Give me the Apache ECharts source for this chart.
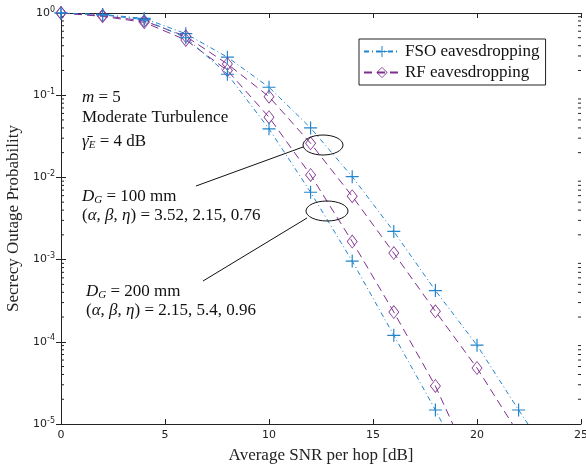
<!DOCTYPE html>
<html>
<head>
<meta charset="utf-8">
<script src="https://cdn.jsdelivr.net/npm/echarts@6/dist/echarts.min.js"></script>
<style>
  html, body { margin: 0; padding: 0; background: #fff; }
  #chart { width: 586px; height: 465px; }
</style>
</head>
<body>
<div id="chart"></div>
<script>
var snr = [0, 2, 4, 6, 8, 10, 12, 14, 16, 18, 20, 22];

// D_G = 100 mm
var fso100 = [1, 0.96, 0.86, 0.56, 0.29, 0.125, 0.040, 0.0102, 0.0022, 4.2e-4, 9.1e-5, 1.48e-5];
var rf100 = [1, 0.93, 0.80, 0.52, 0.24, 0.096, 0.026, 0.0059, 0.0012, 2.35e-4, 4.8e-5];
// D_G = 200 mm
var rf200 = [1, 0.91, 0.77, 0.47, 0.20, 0.054, 0.0107, 0.00166, 2.3e-4, 2.9e-5];
var fso200 = [1, 0.95, 0.83, 0.50, 0.18, 0.039, 0.0066, 9.6e-4, 1.2e-4, 1.48e-5];

// curves keep going past the last marker, down through the bottom of the axis
var fso100Tail = [23, 6.2e-6];
var rf100Tail = [22, 7.6e-6];
var rf200Tail = [19, 8.1e-6];
var fso200Tail = [19, 4.8e-6];

var blue = '#2284cc';
var purple = '#7e2f8e';
var serif = 'Liberation Serif';
var fs = 17;

var plusPath = 'path://M-0.09,-1h0.18v2h-0.18z M-1,-0.09h2v0.18h-2z';
var diamondPath = 'path://M0,-1L1,0L0,1L-1,0Z M0,-0.84L-0.82,0L0,0.84L0.82,0Z';

function build(ys, tail) {
    var out = ys.map(function (v, i) { return [snr[i], v]; });
    out.push({ value: tail, symbol: 'none' });
    return out;
}

// minor log ticks 2..9 x 10^k
var minorVals = [];
for (var k = -5; k < 0; k++) {
    for (var m = 2; m <= 9; m++) minorVals.push([0, m * Math.pow(10, k)]);
}

function fsoSeries(ys, tail) {
    return {
        name: 'FSO eavesdropping', type: 'line', data: build(ys, tail),
        symbol: plusPath, symbolSize: 13, clip: true,
        itemStyle: { color: blue },
        lineStyle: { color: blue, width: 1, type: [5, 3, 1, 3] },
        z: 3
    };
}
function rfSeries(ys, tail) {
    return {
        name: 'RF eavesdropping', type: 'line', data: build(ys, tail),
        symbol: diamondPath, symbolSize: [11, 14], clip: true,
        itemStyle: { color: purple },
        lineStyle: { color: purple, width: 1, type: [8, 5] },
        z: 3
    };
}

function expLabel(v) {
    var e = Math.round(Math.log(v) / Math.LN10);
    return '10{e|' + e + '}';
}

var italic = { fontStyle: 'italic', fontFamily: serif, fontSize: fs };
var sub = { fontStyle: 'italic', fontFamily: serif, fontSize: 11, padding: [7, 0, 0, 0] };
function note(x, y, text) {
    return { type: 'text', left: x, top: y, z: 10,
        style: { text: text, font: fs + 'px ' + serif, fill: '#111', rich: { i: italic, s: sub } } };
}

var myChart = echarts.init(document.getElementById('chart'));
var option = {
    animation: false,
    grid: { left: 61, right: 5, top: 13, bottom: 41, outerBoundsMode: 'none', containLabel: false },
    legend: {
        data: ['FSO eavesdropping', 'RF eavesdropping'],
        orient: 'vertical', left: 359, top: 39,
        itemWidth: 36, itemHeight: 14, itemGap: 4,
        padding: [4, 6, 4, 4],
        backgroundColor: '#fff', borderColor: '#222', borderWidth: 1,
        textStyle: { fontFamily: serif, fontSize: fs, color: '#111' }
    },
    xAxis: [{
        type: 'value', min: 0, max: 25, interval: 5,
        name: 'Average SNR per hop [dB]', nameLocation: 'middle', nameGap: 23,
        nameTextStyle: { fontFamily: serif, fontSize: fs, color: '#222' },
        axisLine: { lineStyle: { color: '#222' } },
        axisTick: { inside: true, length: 5, lineStyle: { color: '#222' } },
        axisLabel: { fontSize: 11, color: '#222', margin: 6, fontFamily: 'DejaVu Sans' },
        splitLine: { show: false }
    }, {
        type: 'value', min: 0, max: 25, interval: 5, position: 'top',
        axisLine: { lineStyle: { color: '#222' } },
        axisTick: { inside: true, length: 5, lineStyle: { color: '#222' } },
        axisLabel: { show: false },
        splitLine: { show: false }
    }],
    yAxis: [{
        type: 'log', logBase: 10, min: 1e-5, max: 1,
        name: 'Secrecy Outage Probability', nameLocation: 'middle', nameGap: 34,
        nameTextStyle: { fontFamily: serif, fontSize: fs, color: '#222' },
        axisLine: { lineStyle: { color: '#222' } },
        axisTick: { inside: true, length: 5, lineStyle: { color: '#222' } },
        axisLabel: {
            fontSize: 11, color: '#222', margin: 6, fontFamily: 'DejaVu Sans',
            formatter: expLabel,
            rich: { e: { fontSize: 8, padding: [0, 0, 7, 0], fontFamily: 'DejaVu Sans' } }
        },
        splitLine: { show: false }
    }, {
        type: 'log', logBase: 10, min: 1e-5, max: 1, position: 'right',
        axisLine: { lineStyle: { color: '#222' } },
        axisTick: { inside: true, length: 5, lineStyle: { color: '#222' } },
        axisLabel: { show: false },
        splitLine: { show: false }
    }],
    series: [
        fsoSeries(fso100, fso100Tail),
        rfSeries(rf100, rf100Tail),
        rfSeries(rf200, rf200Tail),
        fsoSeries(fso200, fso200Tail),
        {
            type: 'custom', silent: true, data: minorVals, z: 1,
            renderItem: function (params, api) {
                var p = api.coord([0, api.value(1)]);
                var cs = params.coordSys;
                var st = { stroke: '#222', lineWidth: 1 };
                return {
                    type: 'group', children: [
                        { type: 'line', shape: { x1: cs.x, y1: p[1], x2: cs.x + 3, y2: p[1] }, style: st },
                        { type: 'line', shape: { x1: cs.x + cs.width, y1: p[1], x2: cs.x + cs.width - 3, y2: p[1] }, style: st }
                    ]
                };
            }
        }
    ],
    graphic: [
        note(82, 89, '{i|m} = 5'),
        note(82, 109, 'Moderate Turbulence'),
        note(82, 133, '{i|\u03B3\u0304}{s|E} = 4 dB'),
        note(82, 188, '{i|D}{s|G} = 100 mm'),
        note(82, 207, '({i|\u03B1}, {i|\u03B2}, {i|\u03B7}) = 3.52, 2.15, 0.76'),
        note(86, 283, '{i|D}{s|G} = 200 mm'),
        note(86, 302, '({i|\u03B1}, {i|\u03B2}, {i|\u03B7}) = 2.15, 5.4, 0.96'),
        { type: 'ellipse', shape: { cx: 323, cy: 145, rx: 20, ry: 10 }, style: { fill: 'none', stroke: '#111', lineWidth: 1 }, z: 10 },
        { type: 'ellipse', shape: { cx: 327, cy: 211, rx: 21, ry: 10 }, style: { fill: 'none', stroke: '#111', lineWidth: 1 }, z: 10 },
        { type: 'line', shape: { x1: 196, y1: 186, x2: 303, y2: 147 }, style: { stroke: '#111', lineWidth: 1 }, z: 10 },
        { type: 'line', shape: { x1: 203, y1: 281, x2: 307, y2: 218 }, style: { stroke: '#111', lineWidth: 1 }, z: 10 }
    ]
};
myChart.setOption(option);
</script>
</body>
</html>
